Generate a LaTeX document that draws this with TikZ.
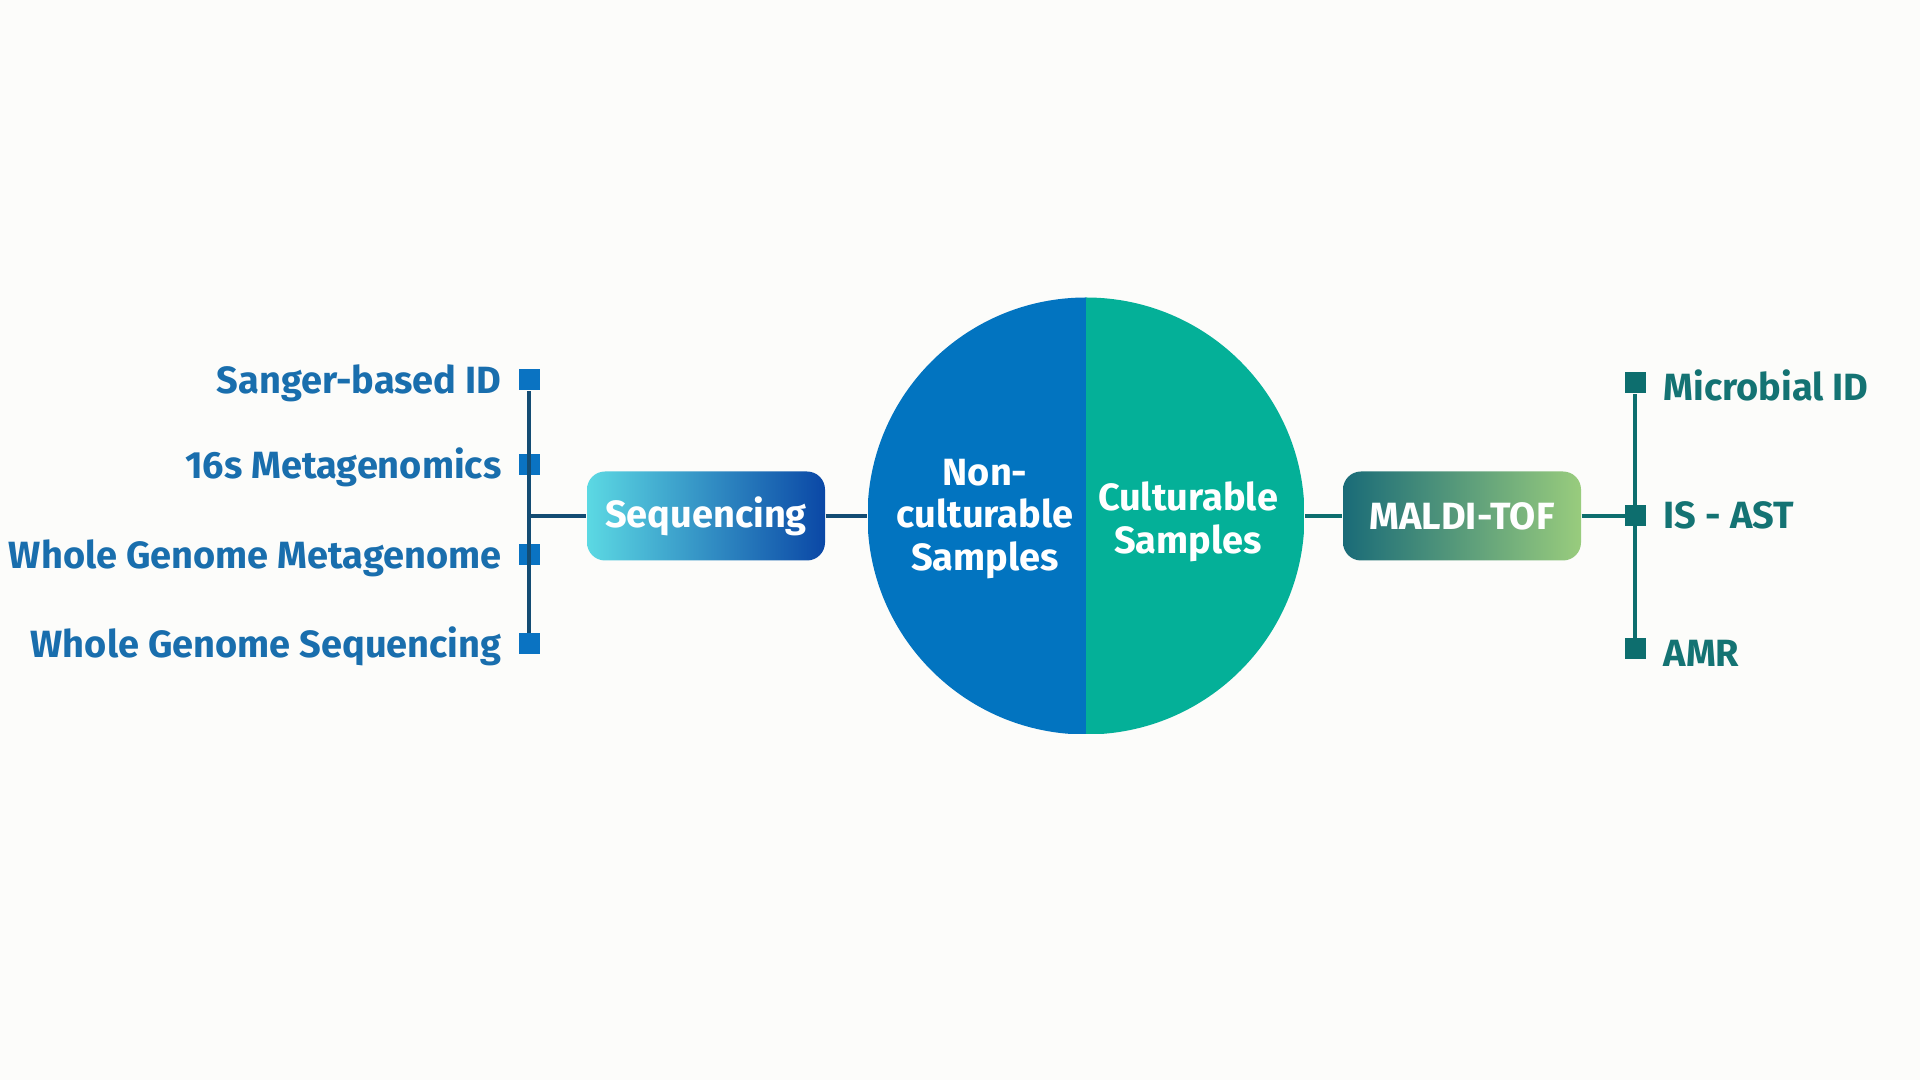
\documentclass[tikz,border=0pt]{standalone}
\usepackage{fontspec}
\setmainfont{Fira Sans}
\usepackage{tikz}
\definecolor{bgwhite}{rgb}{0.99,0.988,0.982}
\definecolor{ncblue}{rgb}{0.008,0.455,0.753}
\definecolor{cuteal}{rgb}{0.016,0.69,0.596}
\definecolor{lblblue}{rgb}{0.1,0.43,0.68}
\definecolor{sqblue}{rgb}{0.04,0.45,0.76}
\definecolor{lnblue}{rgb}{0.075,0.3,0.45}
\definecolor{rtteal}{rgb}{0.05,0.43,0.43}
\definecolor{lblteal}{rgb}{0.08,0.45,0.45}
\definecolor{seqleft}{rgb}{0.36,0.85,0.89}
\definecolor{seqright}{rgb}{0.04,0.28,0.65}
\definecolor{malleft}{rgb}{0.1,0.42,0.47}
\definecolor{malright}{rgb}{0.6,0.8,0.49}
\tikzstyle{every node}=[font=\bfseries\fontsize{10.8}{12.2}\selectfont]
\tikzstyle{method}=[rounded corners=0.18cm,minimum width=2.38cm,minimum height=0.89cm,text=white,shading=axis,shading angle=90]
\tikzstyle{leaf}=[rectangle,minimum size=0.21cm,inner sep=0pt]
\tikzstyle{lbl}=[text height=7.6pt,text depth=0pt,inner sep=0pt]
\begin{document}
\begin{tikzpicture}[line cap=butt,line join=round,x=1.0cm,y=1.0cm]
            \fill[bgwhite] (0,0) rectangle (19.2,10.8);
            \useasboundingbox (0,0) rectangle (19.2,10.8);
            \node[circle,minimum size=4.37cm,inner sep=0pt,path picture={
                \fill[ncblue] (path picture bounding box.south west) rectangle (path picture bounding box.north);
                \fill[cuteal] (path picture bounding box.south) rectangle (path picture bounding box.north east);}] (samples) at (10.86,5.64) {};
            \node[text=white,align=center] (noncult) at (9.85,5.61) {Non-\\culturable\\Samples};
            \node[text=white,align=center] (cult) at (11.88,5.58) {Culturable\\Samples};
            \node[method,left color=seqleft,right color=seqright] (seq) at (7.06,5.64) {Sequencing};
            \node[method,left color=malleft,right color=malright] (maldi) at (14.62,5.64) {MALDI-TOF};
            \coordinate (lbus) at (5.29,5.64);
            \coordinate (rbus) at (16.35,5.64);
            \draw[line width=1.2pt,color=lnblue] (lbus) -- (seq.west);
            \draw[line width=1.2pt,color=lnblue] (seq.east) -- (samples.west);
            \draw[line width=1.2pt,color=rtteal] (samples.east) -- (maldi.west);
            \draw[line width=1.2pt,color=rtteal] (maldi.east) -- (rbus);
            % left branch
            \node[leaf,fill=sqblue] (s1) at (5.29,7.00) {};
            \node[leaf,fill=sqblue] (s2) at (5.29,6.15) {};
            \node[leaf,fill=sqblue] (s3) at (5.29,5.25) {};
            \node[leaf,fill=sqblue] (s4) at (5.29,4.36) {};
            \draw[line width=1.4pt,color=lnblue] (s1.south) -- (s4.north);
            \foreach \s/\t in {s1/Sanger-based ID,s2/16s Metagenomics,s3/Whole Genome Metagenome,s4/Whole Genome Sequencing}
                \node[lbl,text=lblblue,anchor=east] (\s-lbl) at ([xshift=-0.27cm]\s.center) {\t};
            % right branch
            \node[leaf,fill=rtteal] (r1) at (16.35,6.97) {};
            \node[leaf,fill=rtteal] (r2) at (16.35,5.64) {};
            \node[leaf,fill=rtteal] (r3) at (16.35,4.31) {};
            \draw[line width=1.4pt,color=rtteal] (r1.south) -- (r3.north);
            \foreach \s/\t/\dy in {r1/Microbial ID/-0.04,r2/IS - AST/0.01,r3/AMR/-0.04}
                \node[lbl,text=lblteal,anchor=west] (\s-lbl) at ([xshift=0.28cm,yshift=\dy cm]\s.center) {\t};
\end{tikzpicture}
\end{document}
